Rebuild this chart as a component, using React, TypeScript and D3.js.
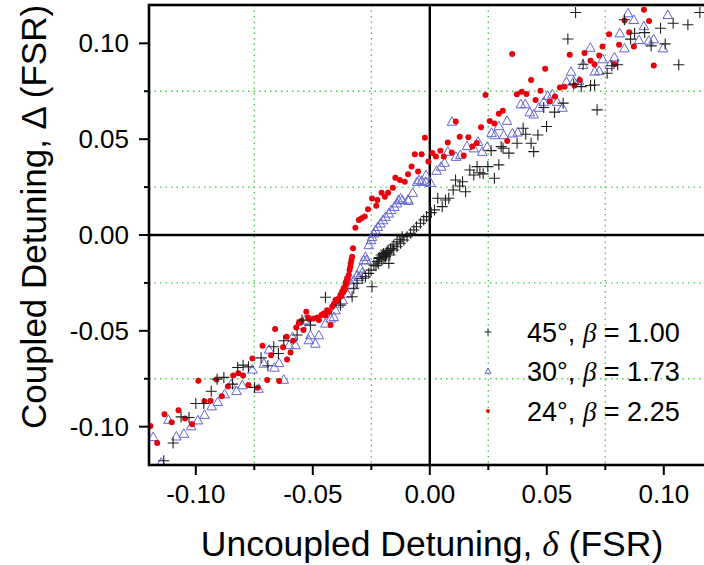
import React from "react";
import * as d3 from "d3";

const xTicksMajor = [-0.1, -0.05, 0, 0.05, 0.1];
const xTicksMinor = [-0.075, -0.025, 0.025, 0.075];
const yTicksMajor = [-0.1, -0.05, 0, 0.05, 0.1];
const yTicksMinor = [-0.075, -0.025, 0.025, 0.075];

const legendAngles = ["45", "30", "24"];
const legendBetas = ["1.00", "1.73", "2.25"];

// 45°, beta = 1.00 (plus)
const series45: [number, number][] = [
  [-0.1137,-0.1178],[-0.1097,-0.1085],[-0.1063,-0.0949],[-0.1029,-0.0952],[-0.1000,-0.0879],[-0.0966,-0.0879],
  [-0.0934,-0.0815],[-0.0909,-0.0752],[-0.0880,-0.0743],[-0.0843,-0.0778],[-0.0821,-0.0691],[-0.0798,-0.0679],
  [-0.0775,-0.0688],[-0.0749,-0.0795],[-0.0721,-0.0641],[-0.0692,-0.0682],[-0.0667,-0.0583],[-0.0647,-0.0618],
  [-0.0624,-0.0552],[-0.0567,-0.0522],[-0.0546,-0.0444],[-0.0510,-0.0470],[-0.0446,-0.0325],[-0.0382,-0.0366],
  [-0.0332,-0.0322],[-0.0325,-0.0278],[-0.0311,-0.0252],[-0.0289,-0.0226],[-0.0275,-0.0218],[-0.0261,-0.0200],
  [-0.0247,-0.0270],[-0.0251,-0.0183],[-0.0239,-0.0157],[-0.0225,-0.0139],[-0.0218,-0.0122],[-0.0208,-0.0104],
  [-0.0197,-0.0096],[-0.0189,-0.0113],[-0.0182,-0.0087],[-0.0175,-0.0148],[-0.0171,-0.0104],[-0.0161,-0.0069],
  [-0.0154,-0.0052],[-0.0140,-0.0035],[-0.0128,-0.0022],[-0.0118,-0.0009],[-0.0154,-0.0078],[-0.0140,-0.0061],
  [-0.0125,-0.0043],[-0.0111,-0.0026],[-0.0097,-0.0009],[-0.0082,0.0009],[-0.0068,0.0026],[-0.0057,0.0043],
  [-0.0040,0.0061],[-0.0026,0.0078],[-0.0014,0.0096],[0.0006,0.0117],[0.0020,0.0131],[0.0034,0.0192],
  [0.0053,0.0148],[0.0067,0.0183],[0.0081,0.0192],[0.0100,0.0235],[0.0110,0.0287],[0.0128,0.0256],
  [0.0140,0.0278],[0.0153,0.0226],[0.0171,0.0339],[0.0188,0.0313],[0.0202,0.0357],[0.0214,0.0325],
  [0.0228,0.0319],[0.0248,0.0357],[0.0262,0.0440],[0.0276,0.0296],[0.0305,0.0461],[0.0295,0.0366],
  [0.0313,0.0453],[0.0338,0.0427],[0.0373,0.0479],[0.0399,0.0557],[0.0410,0.0526],[0.0433,0.0479],
  [0.0444,0.0435],[0.0462,0.0522],[0.0487,0.0665],[0.0499,0.0566],[0.0533,0.0641],[0.0570,0.0688],
  [0.0590,0.1023],[0.0615,0.0787],[0.0647,0.0774],[0.0655,0.0891],[0.0687,0.0780],[0.0715,0.0653],
  [0.0704,0.0783],[0.0758,0.0844],[0.0778,0.0883],[0.0803,0.0888],[0.0832,0.1123],[0.0858,0.1022],
  [0.0875,0.1053],[0.0918,0.1056],[0.0946,0.0987],[0.0986,0.1079],[0.1006,0.0997],[0.1040,0.1105],
  [0.1064,0.0888],[0.1103,0.1097],[0.1154,0.1161],[0.0623,0.1161],
  [-0.0215,-0.0118],[-0.0200,-0.0100],[-0.0192,-0.0108],[-0.0185,-0.0092],[-0.0178,-0.0080],[-0.0168,-0.0072],
  [-0.0205,-0.0130],[-0.0230,-0.0160],[-0.0220,-0.0150],[-0.0196,-0.0120],[-0.0186,-0.0100],
];

// 30°, beta = 1.73 (triangle)
const series30: [number, number][] = [
  [-0.1182,-0.1053],[-0.1148,-0.1187],[-0.1117,-0.0963],[-0.1083,-0.1050],[-0.1051,-0.1036],[-0.1020,-0.0997],
  [-0.0991,-0.0966],[-0.0963,-0.0937],[-0.0932,-0.0893],[-0.0906,-0.0870],[-0.0877,-0.0830],[-0.0849,-0.0778],
  [-0.0826,-0.0813],[-0.0801,-0.0783],[-0.0758,-0.0701],[-0.0732,-0.0801],[-0.0709,-0.0670],[-0.0687,-0.0597],
  [-0.0664,-0.0691],[-0.0644,-0.0667],[-0.0624,-0.0754],[-0.0601,-0.0574],[-0.0587,-0.0531],
  [-0.0574,-0.0574],[-0.0548,-0.0470],[-0.0534,-0.0444],[-0.0517,-0.0548],[-0.0510,-0.0522],[-0.0489,-0.0566],
  [-0.0474,-0.0522],[-0.0446,-0.0461],[-0.0424,-0.0435],[-0.0410,-0.0427],[-0.0403,-0.0392],[-0.0389,-0.0357],
  [-0.0372,-0.0339],[-0.0353,-0.0305],[-0.0332,-0.0261],[-0.0325,-0.0235],[-0.0311,-0.0209],[-0.0303,-0.0218],
  [-0.0296,-0.0174],[-0.0289,-0.0197],[-0.0282,-0.0131],[-0.0275,-0.0113],[-0.0271,-0.0131],[-0.0261,-0.0052],
  [-0.0251,-0.0026],[-0.0247,-0.0009],[-0.0239,0.0009],[-0.0232,0.0026],[-0.0222,0.0043],[-0.0211,0.0061],
  [-0.0200,0.0078],[-0.0189,0.0096],[-0.0175,0.0113],[-0.0165,0.0131],[-0.0151,0.0148],[-0.0140,0.0166],
  [-0.0125,0.0192],[-0.0134,0.0183],[-0.0118,0.0183],[-0.0093,0.0186],[-0.0091,0.0179],[-0.0073,0.0221],
  [-0.0054,0.0278],[-0.0046,0.0287],[-0.0034,0.0284],[-0.0017,0.0278],[0.0003,0.0273],[-0.0016,0.0313],
  [0.0029,0.0336],[0.0048,0.0357],[0.0063,0.0378],[0.0077,0.0435],
  [0.0095,0.0592],[0.0112,0.0409],[0.0131,0.0418],[0.0159,0.0465],[0.0188,0.0453],[0.0206,0.0487],
  [0.0224,0.0435],[0.0245,0.0461],[0.0264,0.0534],[0.0278,0.0522],[0.0295,0.0569],[0.0316,0.0522],
  [0.0330,0.0597],[0.0353,0.0531],[0.0376,0.0536],[0.0389,0.0683],[0.0408,0.0683],[0.0427,0.0641],
  [0.0444,0.0630],[0.0466,0.0665],[0.0487,0.0696],[0.0504,0.0727],[0.0524,0.0735],[0.0544,0.0696],
  [0.0567,0.0665],[0.0584,0.0801],[0.0604,0.0853],[0.0615,0.0804],[0.0638,0.0804],[0.0655,0.0888],
  [0.0686,0.0978],[0.0705,0.0854],[0.0724,0.0856],[0.0739,0.0918],[0.0769,0.0888],[0.0789,0.0928],
  [0.0812,0.1053],[0.0832,0.0975],[0.0847,0.1158],[0.0872,0.1123],[0.0894,0.1018],[0.0915,0.1091],
  [0.0936,0.1015],[0.0957,0.1022],[0.0997,0.0975],[0.1017,0.1149],
];

// 24°, beta = 2.25 (filled circle)
const series24: [number, number][] = [
  [-0.1194,-0.0996],[-0.1165,-0.1085],[-0.1134,-0.0935],[-0.1103,-0.0977],[-0.1074,-0.0914],[-0.1046,-0.0957],
  [-0.1016,-0.0987],[-0.0989,-0.0761],[-0.0963,-0.0867],[-0.0937,-0.0865],[-0.0912,-0.0754],[-0.0889,-0.0841],
  [-0.0863,-0.0790],[-0.0840,-0.0733],[-0.0818,-0.0721],[-0.0798,-0.0733],[-0.0775,-0.0782],[-0.0758,-0.0644],
  [-0.0735,-0.0797],[-0.0715,-0.0578],[-0.0695,-0.0757],[-0.0678,-0.0628],[-0.0661,-0.0491],[-0.0644,-0.0762],
  [-0.0627,-0.0586],[-0.0610,-0.0649],[-0.0595,-0.0613],[-0.0584,-0.0552],[-0.0612,-0.0531],
  [-0.0571,-0.0482],[-0.0548,-0.0447],[-0.0528,-0.0400],[-0.0514,-0.0440],[-0.0496,-0.0435],[-0.0474,-0.0444],
  [-0.0463,-0.0418],[-0.0453,-0.0409],[-0.0439,-0.0392],[-0.0424,-0.0470],[-0.0417,-0.0374],[-0.0403,-0.0339],
  [-0.0389,-0.0331],[-0.0382,-0.0313],[-0.0375,-0.0296],[-0.0368,-0.0278],[-0.0360,-0.0261],[-0.0358,-0.0244],
  [-0.0353,-0.0226],[-0.0346,-0.0209],[-0.0343,-0.0183],[-0.0338,-0.0148],[-0.0332,-0.0113],[-0.0328,-0.0069],
  [-0.0430,-0.0400],[-0.0410,-0.0360],[-0.0395,-0.0345],[-0.0378,-0.0320],[-0.0370,-0.0300],[-0.0363,-0.0285],
  [-0.0356,-0.0250],[-0.0350,-0.0230],[-0.0340,-0.0165],[-0.0335,-0.0130],[-0.0445,-0.0420],[-0.0520,-0.0430],
  [-0.0560,-0.0460],[-0.0480,-0.0430],[-0.0540,-0.0495],
  [-0.0318,0.0038],[-0.0303,0.0078],[-0.0292,0.0087],[-0.0278,0.0096],[-0.0264,0.0134],[-0.0247,0.0190],
  [-0.0229,0.0153],[-0.0224,0.0183],[-0.0206,0.0221],[-0.0192,0.0200],[-0.0178,0.0221],[-0.0158,0.0247],
  [-0.0147,0.0299],[-0.0128,0.0287],[-0.0107,0.0278],[-0.0093,0.0317],[-0.0078,0.0357],[-0.0064,0.0421],
  [-0.0050,0.0331],[-0.0035,0.0421],[-0.0021,0.0508],[-0.0006,0.0383],[0.0011,0.0428],[0.0026,0.0410],
  [0.0045,0.0440],[0.0060,0.0410],[0.0077,0.0482],[0.0094,0.0430],[0.0111,0.0592],[0.0128,0.0513],
  [0.0145,0.0415],[0.0165,0.0510],[0.0182,0.0462],[0.0201,0.0480],[0.0219,0.0562],[0.0238,0.0731],
  [0.0256,0.0595],[0.0276,0.0582],[0.0295,0.0632],[0.0312,0.0648],[0.0331,0.0491],[0.0352,0.0944],
  [0.0372,0.0735],[0.0393,0.0748],[0.0413,0.0736],[0.0433,0.0809],[0.0452,0.0705],[0.0473,0.0752],
  [0.0493,0.0867],[0.0513,0.0696],[0.0535,0.0722],[0.0556,0.0769],[0.0576,0.0773],[0.0598,0.0940],
  [0.0618,0.0780],[0.0641,0.0809],[0.0661,0.0949],[0.0687,0.0909],[0.0704,0.0891],[0.0724,0.0937],
  [0.0738,0.0983],[0.0766,0.1048],[0.0789,0.0891],[0.0809,0.0992],[0.0832,0.1119],[0.0852,0.1058],
  [0.0872,0.0983],[0.0915,0.1175],[0.0937,0.1117],[0.0957,0.0884],
];

const W = 704;
const H = 565;
const left = 149;
const right = 710.6;
const top = 5;
const bottom = 465;

const FONT = "'Liberation Sans', Arial, sans-serif";
const GREEK = "'Liberation Serif', 'DejaVu Serif', serif";

const PLUS_COLOR = "#1e1e1e";
const TRI_COLOR = "#6464d2";
const RED_COLOR = "#e8000b";
const GRID_COLOR = "#44cc44";

export default function App() {
  const x = d3.scaleLinear().domain([-0.12, 0.12]).range([left, right]);
  const y = d3.scaleLinear().domain([-0.12, 0.12]).range([bottom, top]);
  const fmt = (v: number) => (Math.abs(v) < 1e-9 ? 0 : v).toFixed(2);

  const plusPath = (s: number) => `M${-s},0H${s}M0,${-s}V${s}`;
  const triPath = (s: number) => `M0,${-s}L${s},${s * 0.78}L${-s},${s * 0.78}Z`;

  const legendRows = [0, 1, 2];
  const legendY = [332, 371, 411];

  return (
    <svg width={W} height={H} style={{ position: "absolute", left: 0, top: 0, background: "#fff" }}>
      <defs>
        <clipPath id="plotclip">
          <rect x={left} y={top} width={right - left} height={bottom - top} />
        </clipPath>
      </defs>
      <rect x={0} y={0} width={W} height={H} fill="#fff" />
      {/* grid */}
      <g stroke={GRID_COLOR} strokeWidth={1.3} strokeDasharray="1.5,4">
        {xTicksMinor.map((t) => (
          <line key={"gx" + t} x1={x(t)} x2={x(t)} y1={top} y2={bottom} />
        ))}
        {yTicksMinor.map((t) => (
          <line key={"gy" + t} x1={left} x2={right} y1={y(t)} y2={y(t)} />
        ))}
      </g>
      {/* zero lines */}
      <line x1={x(0)} x2={x(0)} y1={top} y2={bottom} stroke="#000" strokeWidth={2.4} />
      <line x1={left} x2={right} y1={y(0)} y2={y(0)} stroke="#000" strokeWidth={2.4} />

      {/* data */}
      <g clipPath="url(#plotclip)">
        <g fill="none" stroke={TRI_COLOR} strokeWidth={1}>
          {series30.map((d, i) => (
            <path key={"t" + i} d={triPath(4.8)} transform={`translate(${x(d[0])},${y(d[1])})`} />
          ))}
        </g>
        <g fill={RED_COLOR}>
          {series24.map((d, i) => (
            <circle key={"r" + i} cx={x(d[0])} cy={y(d[1])} r={3} />
          ))}
        </g>
        <g fill="none" stroke={PLUS_COLOR} strokeWidth={1.1}>
          {series45.map((d, i) => (
            <path key={"p" + i} d={plusPath(5.5)} transform={`translate(${x(d[0])},${y(d[1])})`} />
          ))}
        </g>
      </g>

      {/* frame */}
      <rect x={left} y={top} width={right - left} height={bottom - top} fill="none" stroke="#000" strokeWidth={2.6} />

      {/* ticks */}
      <g stroke="#000" strokeWidth={2}>
        {yTicksMajor.map((t) => (
          <line key={"yt" + t} x1={left - 10} x2={left} y1={y(t)} y2={y(t)} />
        ))}
        {yTicksMinor.map((t) => (
          <line key={"ym" + t} x1={left - 5} x2={left} y1={y(t)} y2={y(t)} />
        ))}
        {xTicksMajor.map((t) => (
          <line key={"xt" + t} x1={x(t)} x2={x(t)} y1={bottom} y2={bottom + 10} />
        ))}
        {xTicksMinor.map((t) => (
          <line key={"xm" + t} x1={x(t)} x2={x(t)} y1={bottom} y2={bottom + 5} />
        ))}
      </g>
      <g fontFamily={FONT} fontSize={26} fill="#000">
        {yTicksMajor.map((t) => (
          <text key={"yl" + t} x={left - 20} y={y(t) + 9} textAnchor="end">
            {fmt(t)}
          </text>
        ))}
        {xTicksMajor.map((t) => (
          <text key={"xl" + t} x={x(t)} y={503} textAnchor="middle">
            {fmt(t)}
          </text>
        ))}
      </g>

      {/* axis titles */}
      <text x={432} y={556} textAnchor="middle" fontFamily={FONT} fontSize={35.5} fill="#000">
        Uncoupled Detuning,{" "}
        <tspan fontFamily={GREEK} fontStyle="italic">δ</tspan> (FSR)
      </text>
      <text
        transform={`translate(46,217) rotate(-90)`}
        textAnchor="middle"
        fontFamily={FONT}
        fontSize={35}
        fill="#000"
      >
        Coupled Detuning, Δ (FSR)
      </text>

      {/* legend */}
      {legendRows.map((i) => (
        <g key={"lg" + i}>
          {i === 0 && (
            <path d={plusPath(3.5)} transform={`translate(488,${legendY[i]})`} stroke={PLUS_COLOR} strokeWidth={1} fill="none" />
          )}
          {i === 1 && (
            <path d={triPath(3)} transform={`translate(488,${legendY[i]})`} stroke={TRI_COLOR} strokeWidth={1} fill="none" />
          )}
          {i === 2 && <circle cx={488} cy={legendY[i]} r={2} fill={RED_COLOR} />}
          <text x={527} y={legendY[i] + 10} fontFamily={FONT} fontSize={27} fill="#000">
            {legendAngles[i]}°,{" "}
            <tspan fontFamily={GREEK} fontStyle="italic">β</tspan> = {legendBetas[i]}
          </text>
        </g>
      ))}
    </svg>
  );
}
